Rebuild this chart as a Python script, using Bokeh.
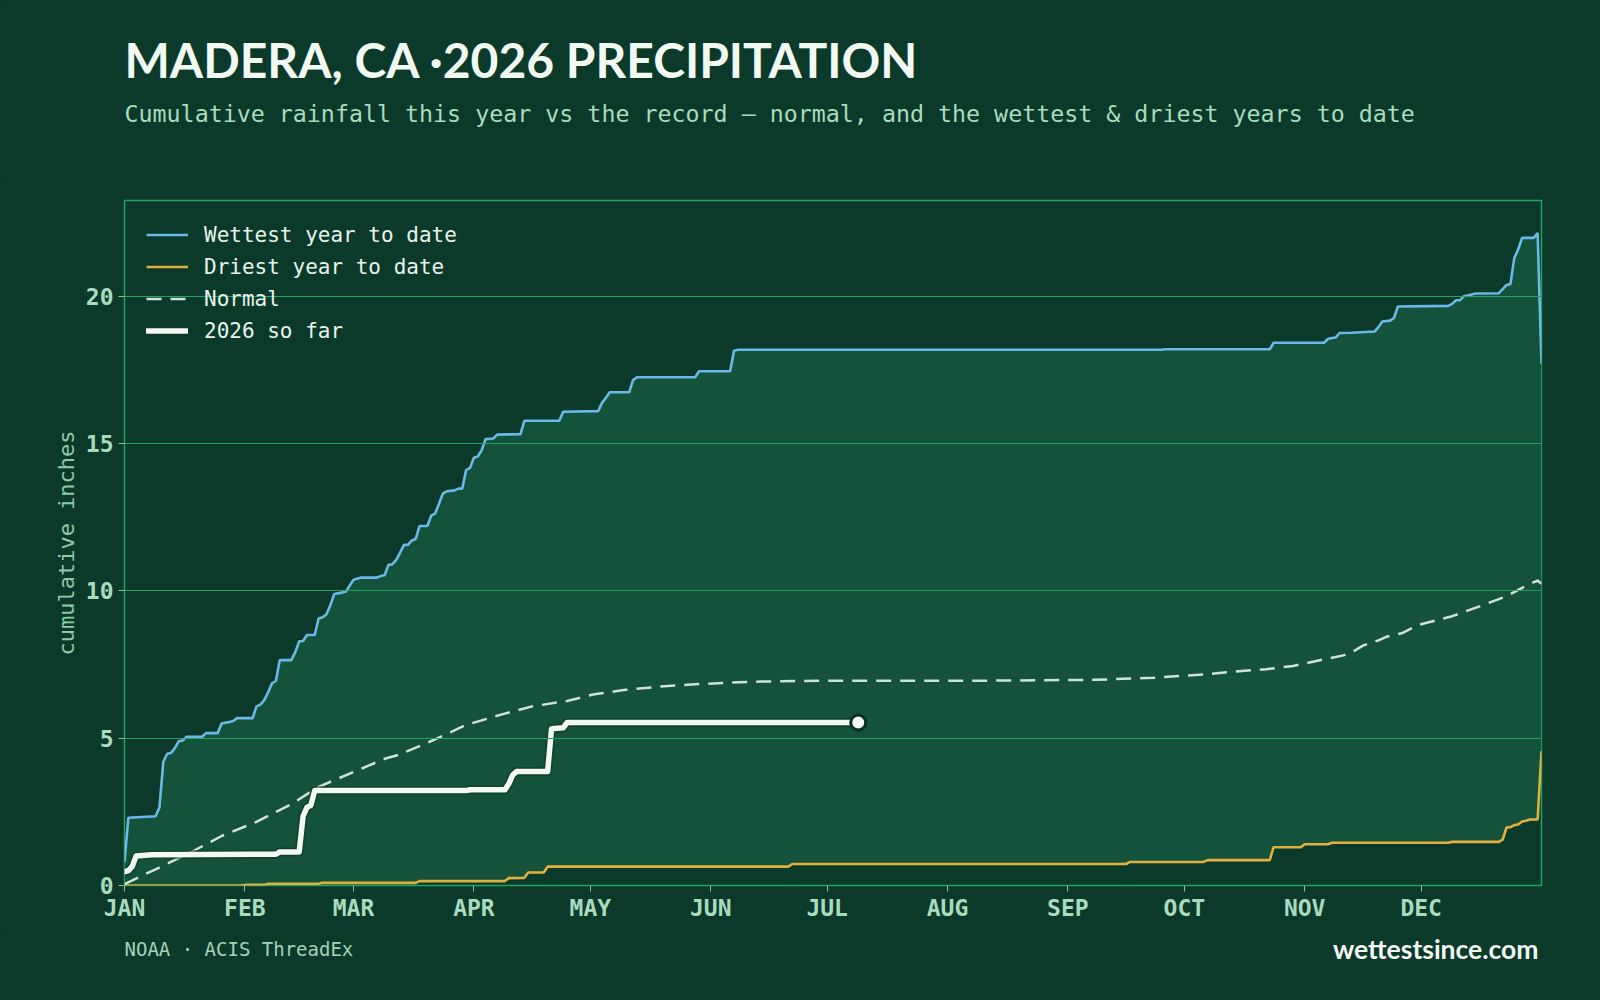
from bokeh.plotting import figure
from bokeh.layouts import column
from bokeh.models import Label, Legend, LegendItem, FixedTicker, Range1d
from bokeh.embed import file_html
from bokeh.resources import INLINE

# ---- data: day of year (0 = Jan 1) and cumulative inches ----
month_starts = [0, 31, 59, 90, 120, 151, 181, 212, 243, 273, 304, 334]
month_labels = ["JAN", "FEB", "MAR", "APR", "MAY", "JUN",
                "JUL", "AUG", "SEP", "OCT", "NOV", "DEC"]
y_ticks = [0, 5, 10, 15, 20]

wet_day = [0, 1, 8, 9, 10, 11, 12, 13, 14, 15, 16, 20, 21, 24, 25, 27, 28, 29, 33,
           34, 35, 36, 37, 38, 39, 40, 43, 44, 45, 46, 47, 49, 50, 51, 52, 53, 54,
           56, 57, 59, 61, 65, 66, 67, 68, 69, 70, 71, 72, 73, 74, 75, 76, 78, 79,
           80, 81, 82, 83, 85, 86, 87, 88, 89, 90, 91, 92, 93, 95, 96, 102, 103,
           112, 113, 122, 123, 124, 125, 130, 131, 132, 147, 148, 156, 157, 158,
           267, 268, 295, 296, 309, 310, 311, 312, 313, 316, 322, 323, 324, 326,
           327, 328, 341, 342, 343, 344, 345, 346, 348, 354, 355, 356, 357, 358,
           359, 360, 363, 364, 365]
wet_in = [0.8, 2.3, 2.35, 2.65, 4.2, 4.47, 4.5, 4.67, 4.9, 4.92, 5.05, 5.05, 5.17,
          5.17, 5.5, 5.55, 5.58, 5.68, 5.68, 6.08, 6.14, 6.29, 6.56, 6.86, 6.94,
          7.65, 7.65, 7.92, 8.29, 8.3, 8.5, 8.5, 9.06, 9.1, 9.2, 9.5, 9.89, 9.94,
          9.97, 10.38, 10.45, 10.45, 10.5, 10.53, 10.88, 10.9, 11.05, 11.3, 11.56,
          11.56, 11.71, 11.76, 12.2, 12.2, 12.55, 12.62, 12.95, 13.3, 13.38, 13.41,
          13.47, 13.47, 14.1, 14.17, 14.52, 14.56, 14.77, 15.15, 15.17, 15.3,
          15.32, 15.77, 15.77, 16.08, 16.1, 16.38, 16.55, 16.74, 16.74, 17.15,
          17.25, 17.25, 17.45, 17.45, 18.15, 18.18, 18.18, 18.2, 18.2, 18.42,
          18.42, 18.55, 18.58, 18.6, 18.75, 18.76, 18.8, 18.95, 19.14, 19.17,
          19.26, 19.65, 19.67, 19.74, 19.86, 19.86, 20.0, 20.02, 20.09, 20.1,
          20.24, 20.38, 20.41, 21.3, 21.59, 21.98, 21.98, 22.14, 17.7]

dry_day = [0, 30, 31, 36, 37, 50, 51, 75, 76, 98, 99, 103, 104, 108, 109, 171, 172,
           258, 259, 278, 279, 295, 296, 303, 304, 310, 311, 341, 342, 354, 355,
           356, 357, 358, 359, 360, 361, 362, 364, 365]
dry_in = [0.0, 0.0, 0.02, 0.02, 0.06, 0.06, 0.09, 0.09, 0.15, 0.15, 0.25, 0.26,
          0.44, 0.44, 0.64, 0.64, 0.73, 0.73, 0.8, 0.8, 0.86, 0.86, 1.3, 1.3, 1.4,
          1.4, 1.45, 1.45, 1.48, 1.48, 1.56, 1.97, 1.98, 2.05, 2.07, 2.17, 2.2,
          2.24, 2.24, 4.56]

norm_day = [0, 8, 17, 25, 34, 43, 50, 59, 67, 71, 80, 88, 97, 105, 114, 121, 129,
            138, 147, 155, 164, 180, 220, 250, 265, 279, 286, 294, 301, 307, 314,
            317, 319, 323, 325, 329, 333, 342, 350, 356, 361, 364, 365]
norm_in = [0.05, 0.55, 1.12, 1.68, 2.16, 2.76, 3.35, 3.85, 4.3, 4.45, 4.96, 5.45,
           5.8, 6.08, 6.26, 6.49, 6.64, 6.75, 6.83, 6.88, 6.92, 6.95, 6.95, 6.98,
           7.05, 7.17, 7.26, 7.34, 7.45, 7.62, 7.81, 7.98, 8.14, 8.32, 8.44, 8.56,
           8.83, 9.14, 9.52, 9.82, 10.17, 10.35, 10.24]

cur_day = [0, 1, 2, 3, 7, 39, 40, 45, 46, 47, 48, 49, 88, 89, 98, 99, 100, 101,
           109, 110, 113, 114, 189]
cur_in = [0.47, 0.5, 0.65, 1.0, 1.04, 1.06, 1.14, 1.14, 2.35, 2.65, 2.72, 3.22,
          3.22, 3.25, 3.25, 3.45, 3.75, 3.87, 3.87, 5.32, 5.35, 5.53, 5.53]

title_text = "MADERA, CA ·2026 PRECIPITATION"
subtitle_text = ("Cumulative rainfall this year vs the record — normal, "
                 "and the wettest & driest years to date")
source_text = "NOAA · ACIS ThreadEx"
site_text = "wettestsince.com"

# ---- palette ----
BG = "#0b3a2a"
BAND = "#14523b"
GRID = "#22a366"
TICK_TXT = "#a9dcbf"
WET = "#6cb8e8"
DRY = "#e2b040"
NORM = "#cfe3d6"
CUR = "#f4f8f2"
MONO = "DejaVu Sans Mono"
SANS = "Lato"
PAGE_BG = {"background-color": BG}

W = 1600
HEAD_H, MAIN_H, FOOT_H = 180, 750, 70
FRAME_L, FRAME_R = 124, 1541   # page x of the chart frame edges


def text_strip(height, top):
    """A bare figure whose data units are page pixels (y grows downward).
    Its frame lines up with the chart frame inside the column."""
    f = figure(width=W, height=height, output_backend="svg", toolbar_location=None,
               x_range=Range1d(FRAME_L, FRAME_R), y_range=Range1d(top + height, top),
               x_axis_type=None, y_axis_type=None,
               min_border=0, background_fill_color=BG, border_fill_color=BG,
               styles=PAGE_BG)
    f.outline_line_color = None
    return f


# ---- header: title and subtitle ----
head = text_strip(HEAD_H, 0)
head.add_layout(Label(x=FRAME_L, y=59, text=title_text, text_font=SANS,
                      text_font_style="bold", text_font_size="48px",
                      text_color="#f2f8f2", text_baseline="middle"))
head.add_layout(Label(x=FRAME_L, y=113, text=subtitle_text, text_font=MONO,
                      text_font_size="23.3px", text_color="#a8dcbe",
                      text_baseline="middle"))

# ---- main chart ----
p = figure(width=W, height=MAIN_H, output_backend="svg", toolbar_location=None,
           x_range=Range1d(0, 365), y_range=Range1d(0, max(wet_in) * 1.05),
           min_border_left=FRAME_L, min_border_right=W - FRAME_R,
           min_border_top=20, min_border_bottom=45,
           background_fill_color=BG, border_fill_color=BG, styles=PAGE_BG)
p.title.visible = False
p.outline_line_color = GRID
p.outline_line_width = 1.5

# range between the driest and wettest year to date
p.patch(x=wet_day + dry_day[::-1], y=wet_in + dry_in[::-1],
        fill_color=BAND, line_color=None, level="underlay")

wet_r = p.line(wet_day, wet_in, line_color=WET, line_width=2.6)
dry_r = p.line(dry_day, dry_in, line_color=DRY, line_width=2.6)
norm_r = p.line(norm_day, norm_in, line_color=NORM, line_width=2.5,
                line_dash="15 9")
p.line(cur_day, cur_in, line_color=BG, line_width=9, line_alpha=0.6,
       line_join="round")
cur_r = p.line(cur_day, cur_in, line_color=CUR, line_width=5.5,
               line_join="round", line_cap="round")
p.scatter([cur_day[-1]], [cur_in[-1]], size=15, fill_color=CUR,
          line_color="#0a2f22", line_width=3)

# ---- axes and grid ----
p.xgrid.visible = False
p.ygrid.grid_line_color = GRID
p.ygrid.grid_line_width = 1
p.ygrid.level = "glyph"
p.ygrid.ticker = FixedTicker(ticks=y_ticks)

p.xaxis.ticker = FixedTicker(ticks=month_starts)
p.xaxis.major_label_overrides = {d: m for d, m in zip(month_starts, month_labels)}
p.yaxis.ticker = FixedTicker(ticks=y_ticks)

for ax in (p.xaxis[0], p.yaxis[0]):
    ax.axis_line_color = None
    ax.major_tick_line_color = "#8fbfa3"
    ax.major_tick_out = 6
    ax.major_tick_in = 0
    ax.minor_tick_line_color = None
    ax.major_label_text_font = MONO
    ax.major_label_text_font_style = "bold"
    ax.major_label_text_font_size = "23px"
    ax.major_label_text_color = TICK_TXT
    ax.major_label_standoff = 5
p.xaxis.major_label_standoff = 3

p.yaxis.axis_label = "cumulative inches"
p.yaxis.axis_label_text_font = MONO
p.yaxis.axis_label_text_font_style = "normal"
p.yaxis.axis_label_text_font_size = "22px"
p.yaxis.axis_label_text_color = "#8ccaa6"
p.yaxis.axis_label_standoff = 4

# ---- legend ----
legend = Legend(items=[
    LegendItem(label="Wettest year to date", renderers=[wet_r]),
    LegendItem(label="Driest year to date", renderers=[dry_r]),
    LegendItem(label="Normal", renderers=[norm_r]),
    LegendItem(label="2026 so far", renderers=[cur_r]),
], location="top_left")
legend.background_fill_alpha = 0
legend.border_line_color = None
legend.label_text_font = MONO
legend.label_text_font_size = "21px"
legend.label_text_color = "#e9f3ec"
legend.glyph_width = 42
legend.glyph_height = 25
legend.label_height = 25
legend.label_standoff = 16
legend.spacing = 7
legend.margin = 22
legend.padding = 9
p.add_layout(legend)

# ---- footer: source and site ----
foot = text_strip(FOOT_H, HEAD_H + MAIN_H)
foot.add_layout(Label(x=FRAME_L, y=948, text=source_text, text_font=MONO,
                      text_font_size="19px", text_color="#a6d2b8",
                      text_baseline="middle"))
foot.add_layout(Label(x=1538, y=948, text=site_text, text_font=SANS,
                      text_font_style="bold", text_font_size="26.5px",
                      text_color="#f4f9f4", text_align="right",
                      text_baseline="middle"))

page = column(head, p, foot, spacing=0, styles=PAGE_BG)
open("out.html", "w").write(file_html(page, INLINE))
